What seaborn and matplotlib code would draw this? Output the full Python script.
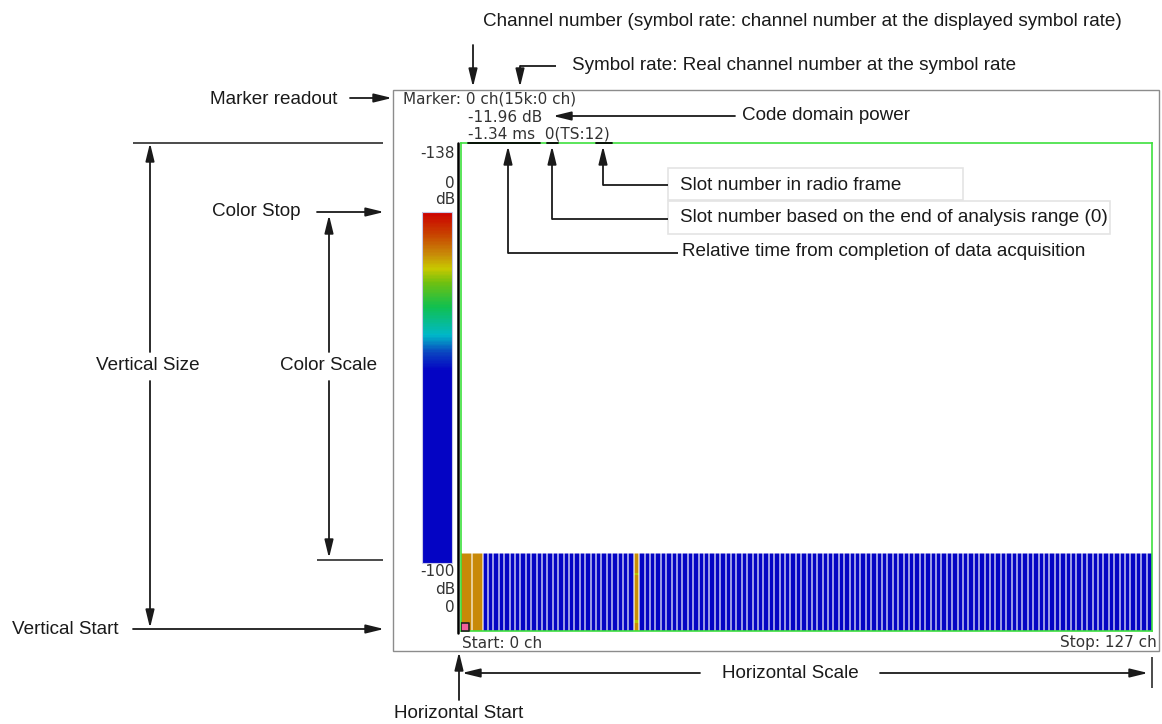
import numpy as np
import matplotlib
matplotlib.use("Agg")
import matplotlib.pyplot as plt
from matplotlib.colors import LinearSegmentedColormap
from matplotlib.patches import Rectangle
import seaborn as sns

# ---------------- data ----------------
n_channels = 128
n_slots = 28
channel_power_db = [-11.96] * 4 + [-85.0] * 28 + [-12.4] + [-85.0] * 95
yellow_cells = [(7, 32, -17.0), (24, 32, -17.0)]  # (slot, channel, dB)
merged_boundaries = [1, 3]                          # channels drawn as one wide bar
marker_channel = 0
color_stop_db = 0
color_start_db = -100
vertical_size_db = -138

marker_lines = ["Marker: 0 ch(15k:0 ch)", "-11.96 dB", "-1.34 ms  0(TS:12)"]
start_label = "Start: 0 ch"
stop_label = "Stop: 127 ch"

# ---------------- style ----------------
sns.set_theme(style="white")
plt.rcParams['font.family'] = ['DejaVu Sans']
ANN_FONT = ['Liberation Sans', 'DejaVu Sans']
W, H = 1162, 724
fig = plt.figure(figsize=(W / 100, H / 100), dpi=100)
fig.patch.set_facecolor("white")


def frac(x0, y0, x1, y1):
    return [x0 / W, 1 - y1 / H, (x1 - x0) / W, (y1 - y0) / H]


cmap = LinearSegmentedColormap.from_list("cdp", [
    (0.00, "#0404C4"), (0.55, "#0404C4"), (0.60, "#0A44C0"),
    (0.65, "#00B8C8"), (0.73, "#10C050"), (0.80, "#70C010"),
    (0.84, "#C8C800"), (0.88, "#C88C08"), (0.94, "#C84000"),
    (1.00, "#CC0000")])

# data matrix built from the arrays above
data = np.tile(np.array(channel_power_db, dtype=float), (n_slots, 1))
for s, c, v in yellow_cells:
    data[s, c] = v

# plot area (green box)
box_top, box_bot, box_l, box_r = 143, 631, 461, 1152
heat_top = 553
ax = fig.add_axes(frac(box_l, box_top, box_r, box_bot))
cax = fig.add_axes(frac(422, 212, 452, 563))

sns.heatmap(data, ax=ax, cmap=cmap, vmin=color_start_db, vmax=color_stop_db,
            cbar_ax=cax, xticklabels=False, yticklabels=False)

# stretch y so that the heatmap sits at the bottom of the plot area
frac_heat = (box_bot - heat_top) / (box_bot - box_top)
ax.set_ylim(n_slots, n_slots - n_slots / frac_heat)
ax.set_xlim(0, n_channels)
ax.set_facecolor("white")
for sp in ax.spines.values():
    sp.set_visible(True)
    sp.set_color("#3EE03E")
    sp.set_linewidth(1.2)

gaps = [g for g in range(1, n_channels) if g not in merged_boundaries]
ax.vlines(gaps, 0, n_slots, color="white", alpha=0.6, lw=1.4)
ax.hlines(0, 0, n_channels, color="white", alpha=0.6, lw=1.2)
ax.scatter([marker_channel + 0.8], [n_slots - 1.6], marker="s", s=38,
           facecolor="#F0609A", edgecolor="#202020", linewidths=1.2, zorder=6)

cbar = ax.collections[0].colorbar
cbar.set_ticks([])
cbar.outline.set_edgecolor("#C8C8E8")
cbar.outline.set_linewidth(0.8)

# ---------------- overlay for screen text and annotations ----------------
ov = fig.add_axes([0, 0, 1, 1], facecolor="none")
ov.set_xlim(0, W)
ov.set_ylim(H, 0)
ov.axis("off")

# instrument screen frame
ov.add_patch(Rectangle((393, 90), 1159 - 393, 651 - 90, fill=False,
                       edgecolor="#8C8C8C", lw=1.0))
ov.plot([458, 458], [143, 633], color="black", lw=1.8)

scr = dict(fontsize=11, color="#333333", family=['DejaVu Sans'], va="center")
ov.text(403, 99, marker_lines[0], ha="left", **scr)
ov.text(468, 117, marker_lines[1], ha="left", **scr)
ov.text(468, 134, marker_lines[2], ha="left", **scr)
for x0, x1 in [(468, 540), (547, 558), (596, 612)]:
    ov.plot([x0, x1], [142.5, 142.5], color="black", lw=1.3)

ov.text(455, 153, str(vertical_size_db), ha="right", **scr)
ov.text(455, 184, str(color_stop_db), ha="right", **scr)
ov.text(455, 200, "dB", ha="right", **scr)
ov.text(455, 572, str(color_start_db), ha="right", **scr)
ov.text(455, 590, "dB", ha="right", **scr)
ov.text(455, 607, "0", ha="right", **scr)
ov.text(462, 643, start_label, ha="left", **scr)
ov.text(1157, 643, stop_label, ha="right", **scr)

ann = dict(fontsize=13.6, color="#1a1a1a", family=ANN_FONT, va="center")
LC = "#1a1a1a"
AP = dict(arrowstyle="-|>,head_length=0.9,head_width=0.22", color=LC, lw=1.3,
          shrinkA=0, shrinkB=0)


def arrow(x0, y0, x1, y1):
    ov.annotate("", xy=(x1, y1), xytext=(x0, y0), arrowprops=AP)


def line(xs, ys, lw=1.3):
    ov.plot(xs, ys, color=LC, lw=lw, solid_capstyle="butt")


# top annotations
ov.text(483, 22, "Channel number (symbol rate: channel number at the displayed symbol rate)",
        ha="left", **ann)
arrow(473, 45, 473, 87)
ov.text(572, 66, "Symbol rate: Real channel number at the symbol rate", ha="left", **ann)
line([556, 520], [66, 66])
arrow(520, 66, 520, 87)

ov.text(337, 100, "Marker readout", ha="right", **ann)
arrow(350, 98, 392, 98)

ov.text(742, 116, "Code domain power", ha="left", **ann)
arrow(735, 116, 553, 116)

# slot / time annotations
ov.add_patch(Rectangle((668, 168), 963 - 668, 32, fill=False, edgecolor="#E4E4E4", lw=1.2))
ov.add_patch(Rectangle((668, 201), 1110 - 668, 33, fill=False, edgecolor="#E4E4E4", lw=1.2))
ov.text(680, 185, "Slot number in radio frame", ha="left", **ann)
line([603, 668], [185, 185])
arrow(603, 185, 603, 146)
ov.text(680, 218, "Slot number based on the end of analysis range (0)", ha="left", **ann)
line([552, 668], [219, 219])
arrow(552, 219, 552, 146)
ov.text(682, 251, "Relative time from completion of data acquisition", ha="left", **ann)
line([508, 678], [253, 253])
arrow(508, 253, 508, 146)

# left annotations
line([133, 383], [143, 143], lw=1.1)
ov.text(148, 366, "Vertical Size", ha="center", **ann)
arrow(150, 352, 150, 143)
arrow(150, 381, 150, 628)
ov.text(300, 212, "Color Stop", ha="right", **ann)
arrow(317, 212, 384, 212)
ov.text(329, 366, "Color Scale", ha="center", **ann)
arrow(329, 352, 329, 215)
arrow(329, 381, 329, 558)
line([317, 383], [560, 560], lw=1.1)
ov.text(12, 630, "Vertical Start", ha="left", **ann)
arrow(133, 629, 384, 629)

# bottom annotations
ov.text(790, 673, "Horizontal Scale", ha="center", **ann)
arrow(700, 673, 462, 673)
arrow(880, 673, 1148, 673)
line([1152, 1152], [657, 688], lw=1.1)
arrow(459, 700, 459, 652)
ov.text(459, 713, "Horizontal Start", ha="center", **ann)

fig.savefig("out.png", dpi=100, facecolor="white")
